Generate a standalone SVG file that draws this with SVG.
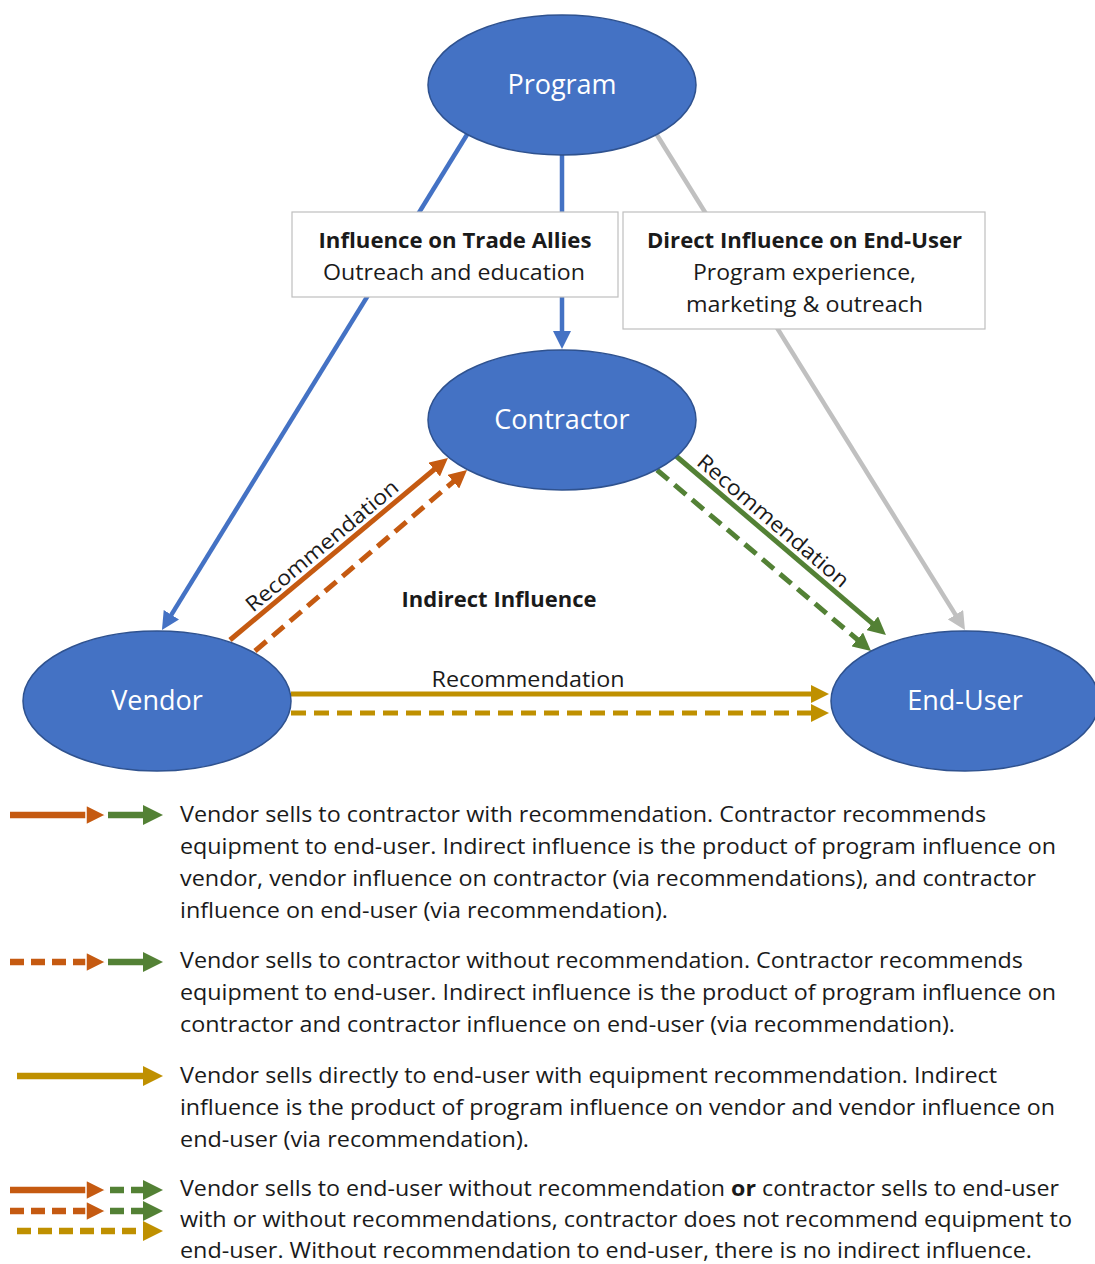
<svg xmlns="http://www.w3.org/2000/svg" width="1095" height="1264" viewBox="0 0 1095 1264">
<style>
.node ellipse{fill:#4472C4;stroke:#2F528F;stroke-width:1.5}
.node text{font-family:"Open Sans","Liberation Sans",sans-serif;font-size:27px;fill:#fff;text-anchor:middle}
.box rect{fill:#fff;stroke:#BFBFBF;stroke-width:1.2}
.lbl{font-family:"Open Sans","Liberation Sans",sans-serif;font-size:21px;fill:#1a1a1a}
.b{font-weight:bold}
.c{text-anchor:middle}
.conn line{fill:none}
.blue{stroke:#4472C4;stroke-width:4.5}
.gray{stroke:#C0C0C0;stroke-width:4.5}
.or{stroke:#C55A11;stroke-width:5}
.gr{stroke:#538135;stroke-width:5}
.go{stroke:#BF9000;stroke-width:5}
.d{stroke-dasharray:15 8}
.lg{stroke-width:6.5}
.ld{stroke-dasharray:14 7}
</style>
<defs>
<marker id="ab" markerUnits="userSpaceOnUse" markerWidth="18" markerHeight="18" refX="4" refY="9" orient="auto"><path d="M0,0 L18,9 L0,18 z" fill="#4472C4"/></marker>
<marker id="ag" markerUnits="userSpaceOnUse" markerWidth="18" markerHeight="18" refX="4" refY="9" orient="auto"><path d="M0,0 L18,9 L0,18 z" fill="#C0C0C0"/></marker>
<marker id="ao" markerUnits="userSpaceOnUse" markerWidth="18" markerHeight="18" refX="4" refY="9" orient="auto"><path d="M0,0 L18,9 L0,18 z" fill="#C55A11"/></marker>
<marker id="agr" markerUnits="userSpaceOnUse" markerWidth="18" markerHeight="18" refX="4" refY="9" orient="auto"><path d="M0,0 L18,9 L0,18 z" fill="#538135"/></marker>
<marker id="ago" markerUnits="userSpaceOnUse" markerWidth="18" markerHeight="18" refX="4" refY="9" orient="auto"><path d="M0,0 L18,9 L0,18 z" fill="#BF9000"/></marker>
<marker id="lo" markerUnits="userSpaceOnUse" markerWidth="22" markerHeight="22" refX="5" refY="11" orient="auto"><path d="M1,1 L21,11 L1,21 z" fill="#C55A11" stroke="#fff" stroke-width="1.5"/></marker>
<marker id="lgr" markerUnits="userSpaceOnUse" markerWidth="22" markerHeight="22" refX="5" refY="11" orient="auto"><path d="M1,1 L21,11 L1,21 z" fill="#538135"/></marker>
<marker id="lgo" markerUnits="userSpaceOnUse" markerWidth="22" markerHeight="22" refX="5" refY="11" orient="auto"><path d="M1,1 L21,11 L1,21 z" fill="#BF9000"/></marker>
</defs>
<rect width="1095" height="1264" fill="#fff"/>

<g id="connectors" class="conn">
<line class="blue" x1="468" y1="133" x2="169.3" y2="618.1" marker-end="url(#ab)"/>
<line class="blue" x1="562" y1="155" x2="562" y2="335" marker-end="url(#ab)"/>
<line class="gray" x1="657" y1="135" x2="957.6" y2="618.1" marker-end="url(#ag)"/>
<line class="or" x1="230" y1="640" x2="437.2" y2="467" marker-end="url(#ao)"/>
<line class="or d" x1="255" y1="651" x2="456.4" y2="479.1" marker-end="url(#ao)"/>
<line class="gr" x1="676" y1="456" x2="875.3" y2="625.9" marker-end="url(#agr)"/>
<line class="gr d" x1="657" y1="470" x2="860.3" y2="642" marker-end="url(#agr)"/>
<line class="go" x1="291" y1="694" x2="815" y2="694" marker-end="url(#ago)"/>
<line class="go d" x1="291" y1="713" x2="815" y2="713" marker-end="url(#ago)"/>
<text class="lbl c" transform="translate(322,546) rotate(-40)" y="7" textLength="192" lengthAdjust="spacingAndGlyphs">Recommendation</text>
<text class="lbl c" transform="translate(773,521) rotate(40.5)" y="7" textLength="192" lengthAdjust="spacingAndGlyphs">Recommendation</text>
<text class="lbl c" x="528" y="687" textLength="193" lengthAdjust="spacingAndGlyphs">Recommendation</text>
<text class="lbl c b" x="499" y="607" textLength="195" lengthAdjust="spacingAndGlyphs">Indirect Influence</text>
</g>

<g id="box-trade-allies" class="box">
<rect x="292" y="212" width="326" height="85"/>
<text class="lbl c b" x="455" y="248" textLength="273" lengthAdjust="spacingAndGlyphs">Influence on Trade Allies</text>
<text class="lbl c" x="454" y="280" textLength="262" lengthAdjust="spacingAndGlyphs">Outreach and education</text>
</g>
<g id="box-direct" class="box">
<rect x="623" y="212" width="362" height="117"/>
<text class="lbl c b" x="804.5" y="248" textLength="315" lengthAdjust="spacingAndGlyphs">Direct Influence on End-User</text>
<text class="lbl c" x="804.5" y="280" textLength="223" lengthAdjust="spacingAndGlyphs">Program experience,</text>
<text class="lbl c" x="804.5" y="312" textLength="237" lengthAdjust="spacingAndGlyphs">marketing &amp; outreach</text>
</g>

<g id="node-program" class="node"><ellipse cx="562" cy="85" rx="134" ry="70"/><text x="562" y="94">Program</text></g>
<g id="node-contractor" class="node"><ellipse cx="562" cy="420" rx="134" ry="70"/><text x="562" y="429">Contractor</text></g>
<g id="node-vendor" class="node"><ellipse cx="157" cy="701" rx="134" ry="70"/><text x="157" y="710">Vendor</text></g>
<g id="node-enduser" class="node"><ellipse cx="965" cy="701" rx="134" ry="70"/><text x="965" y="710">End-User</text></g>

<g id="legend">
<g id="legend-1">
<line class="or lg" x1="10" y1="815" x2="90" y2="815" marker-end="url(#lo)"/>
<line class="gr lg" x1="108" y1="815" x2="147" y2="815" marker-end="url(#lgr)"/>
<text class="lbl" x="180" y="822" textLength="806" lengthAdjust="spacingAndGlyphs">Vendor sells to contractor with recommendation. Contractor recommends</text>
<text class="lbl" x="180" y="854" textLength="876" lengthAdjust="spacingAndGlyphs">equipment to end-user. Indirect influence is the product of program influence on</text>
<text class="lbl" x="180" y="886" textLength="856" lengthAdjust="spacingAndGlyphs">vendor, vendor influence on contractor (via recommendations), and contractor</text>
<text class="lbl" x="180" y="918" textLength="488" lengthAdjust="spacingAndGlyphs">influence on end-user (via recommendation).</text>
</g>
<g id="legend-2">
<line class="or lg ld" x1="10" y1="962" x2="90" y2="962" marker-end="url(#lo)"/>
<line class="gr lg" x1="108" y1="962" x2="147" y2="962" marker-end="url(#lgr)"/>
<text class="lbl" x="180" y="968" textLength="843" lengthAdjust="spacingAndGlyphs">Vendor sells to contractor without recommendation. Contractor recommends</text>
<text class="lbl" x="180" y="1000" textLength="876" lengthAdjust="spacingAndGlyphs">equipment to end-user. Indirect influence is the product of program influence on</text>
<text class="lbl" x="180" y="1032" textLength="775" lengthAdjust="spacingAndGlyphs">contractor and contractor influence on end-user (via recommendation).</text>
</g>
<g id="legend-3">
<line class="go lg" x1="17" y1="1076" x2="147" y2="1076" marker-end="url(#lgo)"/>
<text class="lbl" x="180" y="1083" textLength="817" lengthAdjust="spacingAndGlyphs">Vendor sells directly to end-user with equipment recommendation. Indirect</text>
<text class="lbl" x="180" y="1115" textLength="875" lengthAdjust="spacingAndGlyphs">influence is the product of program influence on vendor and vendor influence on</text>
<text class="lbl" x="180" y="1147" textLength="349" lengthAdjust="spacingAndGlyphs">end-user (via recommendation).</text>
</g>
<g id="legend-4">
<line class="or lg" x1="10" y1="1190" x2="90" y2="1190" marker-end="url(#lo)"/>
<line class="gr lg ld" x1="110" y1="1190" x2="147" y2="1190" marker-end="url(#lgr)"/>
<line class="or lg ld" x1="10" y1="1211" x2="90" y2="1211" marker-end="url(#lo)"/>
<line class="gr lg ld" x1="110" y1="1211" x2="147" y2="1211" marker-end="url(#lgr)"/>
<line class="go lg ld" x1="17" y1="1231" x2="147" y2="1231" marker-end="url(#lgo)"/>
<text class="lbl" x="180" y="1196" textLength="879" lengthAdjust="spacingAndGlyphs">Vendor sells to end-user without recommendation <tspan class="b">or</tspan> contractor sells to end-user</text>
<text class="lbl" x="180" y="1227" textLength="892" lengthAdjust="spacingAndGlyphs">with or without recommendations, contractor does not recommend equipment to</text>
<text class="lbl" x="180" y="1258" textLength="852" lengthAdjust="spacingAndGlyphs">end-user. Without recommendation to end-user, there is no indirect influence.</text>
</g>
</g>
</svg>
